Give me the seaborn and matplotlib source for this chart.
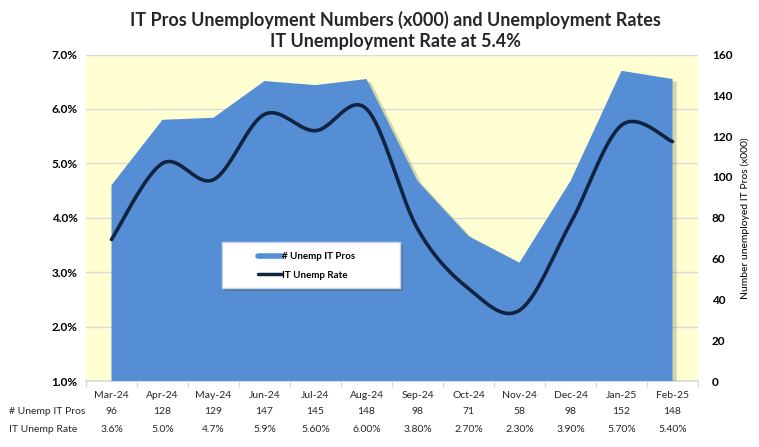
import numpy as np
import pandas as pd
import matplotlib
matplotlib.use("Agg")
import matplotlib.pyplot as plt
import matplotlib.patheffects as pe
from matplotlib.lines import Line2D
from matplotlib.patches import Rectangle
import seaborn as sns

months = ["Mar-24", "Apr-24", "May-24", "Jun-24", "Jul-24", "Aug-24",
          "Sep-24", "Oct-24", "Nov-24", "Dec-24", "Jan-25", "Feb-25"]
unemp_pros = [96, 128, 129, 147, 145, 148, 98, 71, 58, 98, 152, 148]
unemp_rate = [3.6, 5.0, 4.7, 5.9, 5.6, 6.0, 3.8, 2.7, 2.3, 3.9, 5.7, 5.4]
rate_labels = ["3.6%", "5.0%", "4.7%", "5.9%", "5.60%", "6.00%",
               "3.80%", "2.70%", "2.30%", "3.90%", "5.70%", "5.40%"]
row_names = ["# Unemp IT Pros", "IT Unemp Rate"]
title_lines = ["IT Pros Unemployment Numbers (x000) and Unemployment Rates",
               "IT Unemployment Rate at 5.4%"]
right_label = "Number unemployed IT Pros (x000)"

sns.set_theme(style="white")
FONT = ["Lato", "DejaVu Sans"]
plt.rcParams["font.family"] = FONT

BLUE = "#558ED5"
NAVY = "#0F2440"
YELLOW = "#FFFFD2"
GRID = "#D9D9D9"

df = pd.DataFrame({"month": months, "pros": unemp_pros, "rate": unemp_rate})
x = np.arange(len(df))

# Excel-style smoothed line (Bezier through the points)
def smooth(xv, yv, n=30):
    P = np.column_stack([xv, yv]).astype(float)
    out = []
    for i in range(len(P) - 1):
        p0 = P[i - 1] if i > 0 else P[i]
        p1, p2 = P[i], P[i + 1]
        p3 = P[i + 2] if i + 2 < len(P) else P[i + 1]
        c1 = p1 + (p2 - p0) / 6.0
        c2 = p2 - (p3 - p1) / 6.0
        t = np.linspace(0, 1, n, endpoint=(i == len(P) - 2))[:, None]
        seg = ((1 - t) ** 3) * p1 + 3 * ((1 - t) ** 2) * t * c1 + 3 * (1 - t) * t ** 2 * c2 + t ** 3 * p2
        out.append(seg)
    S = np.vstack(out)
    return pd.DataFrame({"x": S[:, 0], "y": S[:, 1]})

fig = plt.figure(figsize=(7.59, 4.47), dpi=100)
L, R, B, T = 86 / 759, 698 / 759, 1 - 381 / 447, 1 - 54.5 / 447
W, H = (698 - 86), (381 - 54.5)
ax_rate = fig.add_axes([L, B, R - L, T - B])
ax_rate.set_facecolor(YELLOW)
ax_cnt = ax_rate.twinx()
ax_line = ax_rate.twinx()

for a in (ax_rate, ax_cnt, ax_line):
    a.set_xlim(-0.5, len(months) - 0.5)
    for s in a.spines.values():
        s.set_visible(False)

# left axis: rate
ax_rate.set_ylim(1, 7)
ax_rate.set_yticks(np.arange(1, 7.01, 1))
ax_rate.set_yticklabels([f"{v:.1f}%" for v in np.arange(1, 7.01, 1)],
                        fontsize=8.5, fontweight="bold", color="black")
ax_rate.grid(axis="y", color=GRID, lw=1)
ax_rate.tick_params(axis="y", length=0, pad=6)
ax_rate.spines["bottom"].set_visible(True)
ax_rate.spines["bottom"].set_color(GRID)
ax_rate.set_xticks(np.arange(-0.5, len(months) + 0.5, 1))
ax_rate.set_xticklabels([])
ax_rate.tick_params(axis="x", length=4, color=GRID, bottom=True, direction="out", width=1)

# right axis: counts (area)
ax_cnt.set_ylim(0, 160)
ax_cnt.set_yticks(np.arange(0, 161, 20))
ax_cnt.set_yticklabels([str(v) for v in range(0, 161, 20)],
                       fontsize=8.5, fontweight="bold", color="black")
ax_cnt.tick_params(axis="y", length=0, pad=10)
ax_cnt.set_ylabel(right_label, fontsize=7.5, labelpad=6, color="black")
ax_cnt.patch.set_visible(False)
area = ax_cnt.fill_between(x, 0, df["pros"], color=BLUE, lw=0, zorder=2)
area.set_path_effects([pe.SimplePatchShadow(offset=(3, -2), shadow_rgbFace="#404020", alpha=0.22),
                       pe.Normal()])

# line on its own axes sharing the rate scale
ax_line.set_ylim(1, 7)
ax_line.set_yticks([])
ax_line.patch.set_visible(False)
sm = smooth(x, df["rate"])
sns.lineplot(data=sm, x="x", y="y", ax=ax_line, color=NAVY, lw=2.6, sort=False,
             estimator=None)
ax_line.set_xlabel("")
ax_line.set_ylabel("")

# legend: box + entries
box = Rectangle(((222 - 86) / W, (381 - 288) / H), 178 / W, 46 / H,
                transform=ax_line.transAxes, facecolor="white", edgecolor="#C6D4E8",
                lw=1, zorder=5)
box.set_path_effects([pe.SimplePatchShadow(offset=(2.5, -2.5), alpha=0.35), pe.Normal()])
ax_line.add_patch(box)
handles = [Line2D([0], [0], color=BLUE, lw=4), Line2D([0], [0], color=NAVY, lw=2.5)]
leg = ax_line.legend(handles, row_names, loc="center left",
                     bbox_to_anchor=((258 - 86) / W, (381 - 266) / H),
                     frameon=False,
                     prop={"family": FONT, "size": 7, "weight": "bold"},
                     handlelength=2.4, handletextpad=0.1, labelspacing=1.0,
                     borderpad=0, borderaxespad=0)
leg.set_zorder(6)
for t in leg.get_texts():
    t.set_color("black")

# title
fig.text(395 / 759, 1 - 20 / 447, title_lines[0],
         ha="center", va="center", fontsize=13, fontweight="bold")
fig.text(395 / 759, 1 - 42 / 447, title_lines[1],
         ha="center", va="center", fontsize=13, fontweight="bold")

# data table
tf = ax_rate.get_xaxis_transform()
for i, m in enumerate(months):
    for py, s in ((396, m), (412, str(unemp_pros[i])), (429, rate_labels[i])):
        ax_rate.text(i, -(py - 381) / H, s, transform=tf, ha="center", va="center",
                     fontsize=7.5, clip_on=False)
fig.text(9 / 759, 1 - 412 / 447, row_names[0], ha="left", va="center", fontsize=7.5)
fig.text(9 / 759, 1 - 429 / 447, row_names[1], ha="left", va="center", fontsize=7.5)

fig.savefig("out.png", dpi=100)
